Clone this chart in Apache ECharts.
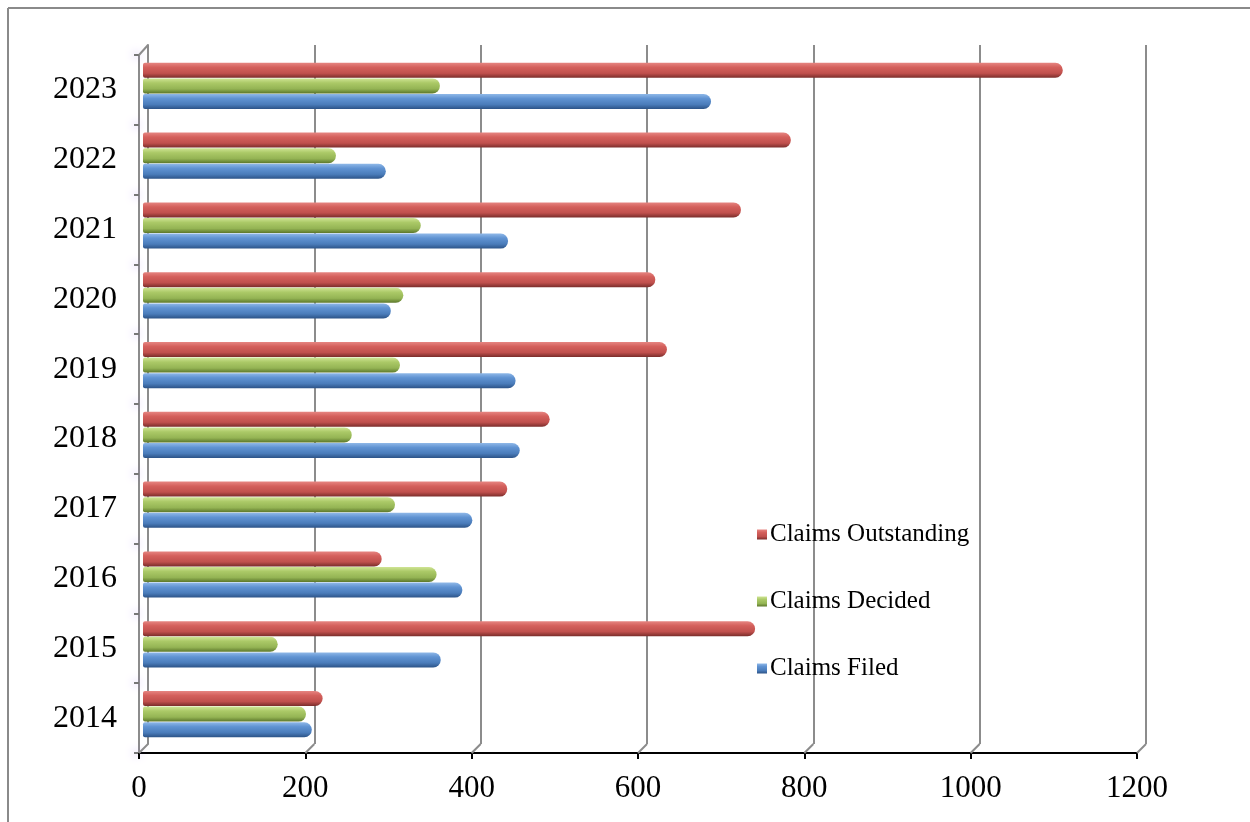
<!DOCTYPE html>
<html><head><meta charset="utf-8">
<script src="https://cdn.jsdelivr.net/npm/echarts@6/dist/echarts.min.js"></script>
<style>html,body{margin:0;padding:0;background:#fff}#c{width:1250px;height:822px}</style>
</head><body><div id="c"></div>
<script>
const years = ['2014','2015','2016','2017','2018','2019','2020','2021','2022','2023'];
const claimsFiled = [203,358,384,396,453,448,298,439,292,683];
const claimsDecided = [196,162,353,303,251,309,313,334,232,357];
const claimsOutstanding = [216,736,287,438,489,630,616,719,779,1106];
const xTicks = [0,200,400,600,800,1000,1200];
const legendOrder = ['Claims Outstanding','Claims Decided','Claims Filed'];

const FONT = 'Liberation Serif';
function grad(stops){
  return new echarts.graphic.LinearGradient(0,0,0,1, stops.map((c)=>({offset:c[0],color:c[1]})));
}
const redG = grad([[0,'#e68581'],[0.3,'#d4605c'],[0.7,'#c0504d'],[1,'#7a2d2b']]);
const greenG = grad([[0,'#cfe494'],[0.3,'#abc967'],[0.7,'#94b454'],[1,'#5c772b']]);
const blueG = grad([[0,'#8fb8e8'],[0.3,'#6093d2'],[0.7,'#4a7cba'],[1,'#2c5387']]);

const chart = echarts.init(document.getElementById('c'));
const barCommon = {type:'bar', xAxisIndex:2, yAxisIndex:2, barWidth:15, barGap:'4%'};
chart.setOption({
  animation:false,
  backgroundColor:'#fff',
  graphic:[
    {type:'line', shape:{x1:8,y1:8,x2:1250,y2:8}, style:{stroke:'#8a8a8a', lineWidth:2}},
    {type:'line', shape:{x1:8,y1:8,x2:8,y2:822}, style:{stroke:'#8a8a8a', lineWidth:2}}
  ],
  legend:{
    orient:'vertical', left:752, top:517, itemWidth:10, itemHeight:10, itemGap:42,
    icon:'rect', data:legendOrder,
    textStyle:{fontFamily:FONT, fontSize:25, color:'#000', padding:[0,0,0,-2]}
  },
  grid:[
    {left:139, right:113, top:55, bottom:69},
    {left:148, right:104, top:45, bottom:78},
    {left:143, right:109, top:51, bottom:73}
  ],
  xAxis:[
    {gridIndex:0, type:'value', min:0, max:1200, interval:200,
     axisLine:{show:true, lineStyle:{color:'#000', width:2}},
     axisTick:{show:true, length:6, lineStyle:{color:'#000', width:2}},
     axisLabel:{fontFamily:FONT, fontSize:31, color:'#000', margin:20, formatter:(v)=>String(v)},
     splitLine:{show:false}},
    {gridIndex:1, type:'value', min:0, max:1200, interval:200,
     axisLine:{show:false}, axisTick:{show:false}, axisLabel:{show:false},
     splitLine:{show:true, lineStyle:{color:'#8c8c8c', width:2}}},
    {gridIndex:2, type:'value', min:0, max:1200, interval:200, show:false}
  ],
  yAxis:[
    {gridIndex:0, type:'category', data:years,
     axisLine:{show:true, lineStyle:{color:'#8c8c8c', width:2}},
     axisTick:{show:true, length:5, lineStyle:{color:'#777', width:2, shadowBlur:10, shadowColor:'rgba(140,90,230,1)'}},
     axisLabel:{fontFamily:FONT, fontSize:32, color:'#000', margin:22}},
    {gridIndex:1, type:'category', data:years,
     axisLine:{show:true, lineStyle:{color:'#8c8c8c', width:2}},
     axisTick:{show:false}, axisLabel:{show:false}},
    {gridIndex:2, type:'category', data:years, show:false}
  ],
  series:[
    Object.assign({}, barCommon, {name:'Claims Outstanding', data:claimsOutstanding, itemStyle:{color:redG, borderRadius:[2,8,8,2]}}),
    Object.assign({}, barCommon, {name:'Claims Decided', data:claimsDecided, itemStyle:{color:greenG, borderRadius:[2,8,8,2]}}),
    Object.assign({}, barCommon, {name:'Claims Filed', data:claimsFiled, itemStyle:{color:blueG, borderRadius:[2,8,8,2]}}),
    {type:'custom', xAxisIndex:0, yAxisIndex:0, silent:true,
     data:xTicks.map(v=>[v,0]),
     renderItem:function(params, api){
       const x = api.coord([api.value(0), 0])[0];
       const cs = params.coordSys;
       const b = cs.y + cs.height;
       const children = [{type:'line', shape:{x1:x, y1:b, x2:x+9, y2:b-9},
         style:{stroke:'#8c8c8c', lineWidth:2}}];
       if (api.value(0) === 0) {
         children.push({type:'line', shape:{x1:x, y1:cs.y, x2:x+9, y2:cs.y-10},
           style:{stroke:'#8c8c8c', lineWidth:2}});
       }
       return {type:'group', children:children};
     }}
  ]
});
</script></body></html>
